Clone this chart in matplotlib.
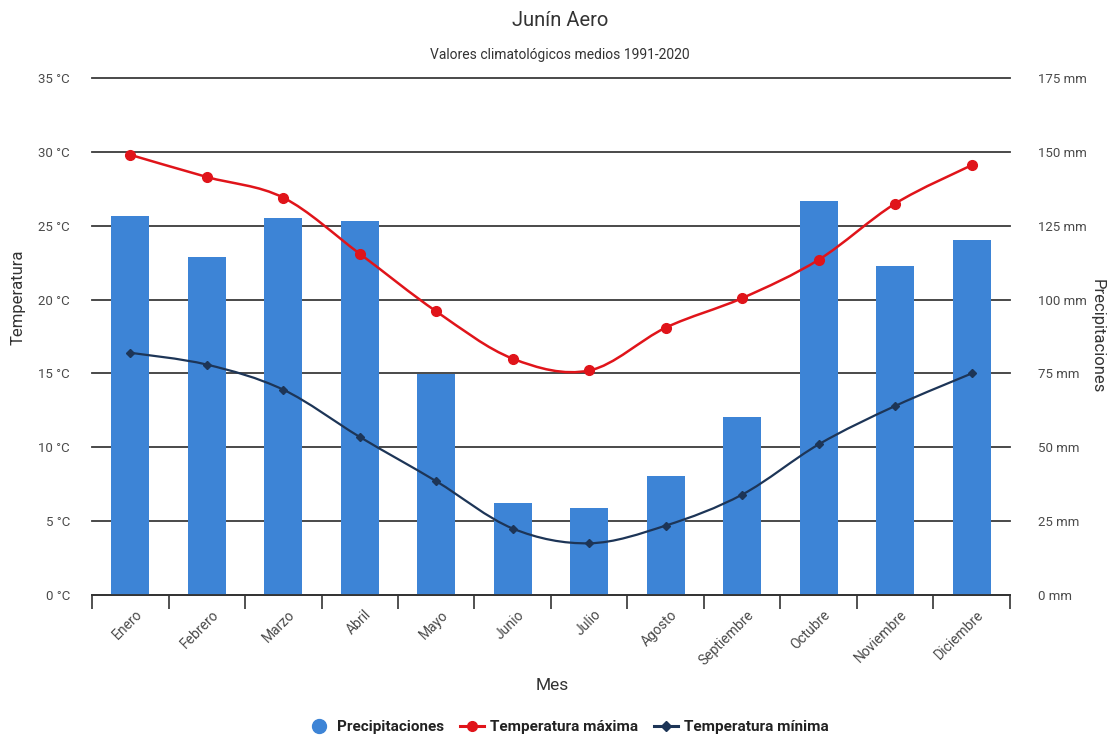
import numpy as np
import matplotlib
matplotlib.use('Agg')
import matplotlib.pyplot as plt
from matplotlib.path import Path
from matplotlib.patches import PathPatch
from matplotlib.lines import Line2D

plt.rcParams['font.family'] = ['Roboto', 'DejaVu Sans']

# datos
meses = ['Enero', 'Febrero', 'Marzo', 'Abril', 'Mayo', 'Junio', 'Julio',
         'Agosto', 'Septiembre', 'Octubre', 'Noviembre', 'Diciembre']
precipitaciones = [128.3, 114.3, 127.5, 126.6, 74.8, 31.0, 29.3, 40.4, 60.1, 133.5, 111.3, 120.2]
temp_max = [29.8, 28.3, 26.9, 23.1, 19.2, 16.0, 15.2, 18.1, 20.1, 22.7, 26.5, 29.1]
temp_min = [16.4, 15.6, 13.9, 10.7, 7.7, 4.5, 3.5, 4.7, 6.8, 10.2, 12.8, 15.0]
temp_ticks = [0, 5, 10, 15, 20, 25, 30, 35]
prec_ticks = [0, 25, 50, 75, 100, 125, 150, 175]

c_bar = '#3d84d6'
c_max = '#e0141a'
c_min = '#1d3557'
c_txt = '#4a4a4a'


def curva_suave(ax, x, y, color, lw):
    # catmull-rom -> bezier, como curveType 'function'
    x = np.asarray(x, float)
    y = np.asarray(y, float)
    pts = np.column_stack([x, y])
    ext = np.vstack([pts[0], pts, pts[-1]])
    verts = [tuple(pts[0])]
    codes = [Path.MOVETO]
    for i in range(len(pts) - 1):
        p0, p1, p2, p3 = ext[i], ext[i + 1], ext[i + 2], ext[i + 3]
        c1 = p1 + (p2 - p0) / 6.0
        c2 = p2 - (p3 - p1) / 6.0
        verts += [tuple(c1), tuple(c2), tuple(p2)]
        codes += [Path.CURVE4] * 3
    ax.add_patch(PathPatch(Path(verts, codes), facecolor='none', edgecolor=color,
                           lw=lw, zorder=3, capstyle='round'))


fig = plt.figure(figsize=(11.07, 7.35), dpi=100)
ax_t = fig.add_axes([92 / 1107, 1 - 595 / 735, 918 / 1107, 517 / 735])
ax_p = ax_t.twinx()
ax_t.set_zorder(ax_p.get_zorder() + 1)
ax_t.patch.set_visible(False)

x = np.arange(len(meses))

# barras de precipitacion (eje derecho)
ax_p.bar(x, precipitaciones, width=0.5, color=c_bar, zorder=2)
ax_p.set_ylim(0, 175)
ax_p.set_yticks(prec_ticks)
ax_p.set_yticklabels([f'{v} mm' for v in prec_ticks])
ax_p.grid(axis='y', color='#3a3a3a', lw=1.3)
for gl in ax_p.get_ygridlines():
    gl.set_clip_on(False)
ax_p.set_axisbelow(True)
ax_p.tick_params(axis='y', length=0, pad=20, labelsize=9.5, labelcolor=c_txt)

# temperaturas (eje izquierdo)
curva_suave(ax_t, x, temp_max, c_max, 1.8)
curva_suave(ax_t, x, temp_min, c_min, 1.6)
ax_t.plot(x, temp_max, 'o', color=c_max, ms=7, zorder=4)
ax_t.plot(x, temp_min, 'D', color=c_min, ms=4.5, zorder=4)
ax_t.set_ylim(0, 35)
ax_t.set_xlim(-0.5, len(meses) - 0.5)
ax_t.set_yticks(temp_ticks)
ax_t.set_yticklabels([f'{v} °C' for v in temp_ticks])
ax_t.tick_params(axis='y', length=0, pad=16, labelsize=9.5, labelcolor=c_txt)

ax_t.set_xticks(np.arange(-0.5, len(meses), 1))
ax_t.set_xticklabels([])
ax_t.tick_params(axis='x', which='major', length=10, width=1.2, color='#333333', direction='out')
ax_t.set_xticks(x + 0.06, minor=True)
ax_t.set_xticklabels(meses, minor=True, rotation=45, ha='right', va='top',
                     rotation_mode='anchor', fontsize=10, color=c_txt)
ax_t.tick_params(axis='x', which='minor', length=0, pad=9)

for a in (ax_t, ax_p):
    for s in ('top', 'left', 'right'):
        a.spines[s].set_visible(False)
ax_p.spines['bottom'].set_visible(False)
ax_t.spines['bottom'].set_color('#333333')
ax_t.spines['bottom'].set_linewidth(1.3)

# textos
fig.text(560 / 1107, 1 - 20 / 735, 'Junín Aero', ha='center', va='center', fontsize=14.5, color='#333333')
fig.text(560 / 1107, 1 - 55 / 735, 'Valores climatológicos medios 1991-2020', ha='center', va='center',
         fontsize=10, color='#333333')
fig.text(18 / 1107, 1 - 297 / 735, 'Temperatura', rotation=90, ha='center', va='center',
         fontsize=12, color='#333333')
fig.text(1097 / 1107, 1 - 336 / 735, 'Precipitaciones', rotation=270, ha='center', va='center',
         fontsize=12, color='#333333')
fig.text(552 / 1107, 1 - 685 / 735, 'Mes', ha='center', va='center', fontsize=12.5, color='#333333')

handles = [
    Line2D([], [], ls='none', marker='o', color=c_bar, ms=10),
    Line2D([], [], color=c_max, lw=2.2, marker='o', ms=7),
    Line2D([], [], color=c_min, lw=2.2, marker='D', ms=5),
]
fig.legend(handles, ['Precipitaciones', 'Temperatura máxima', 'Temperatura mínima'],
           loc='center', bbox_to_anchor=(568 / 1107, 1 - 727 / 735), ncol=3, frameon=False,
           prop={'weight': 'bold', 'size': 11}, handlelength=1.6, handletextpad=0.4,
           columnspacing=1.0, labelcolor='#222222')

fig.savefig('out.png', dpi=100)
